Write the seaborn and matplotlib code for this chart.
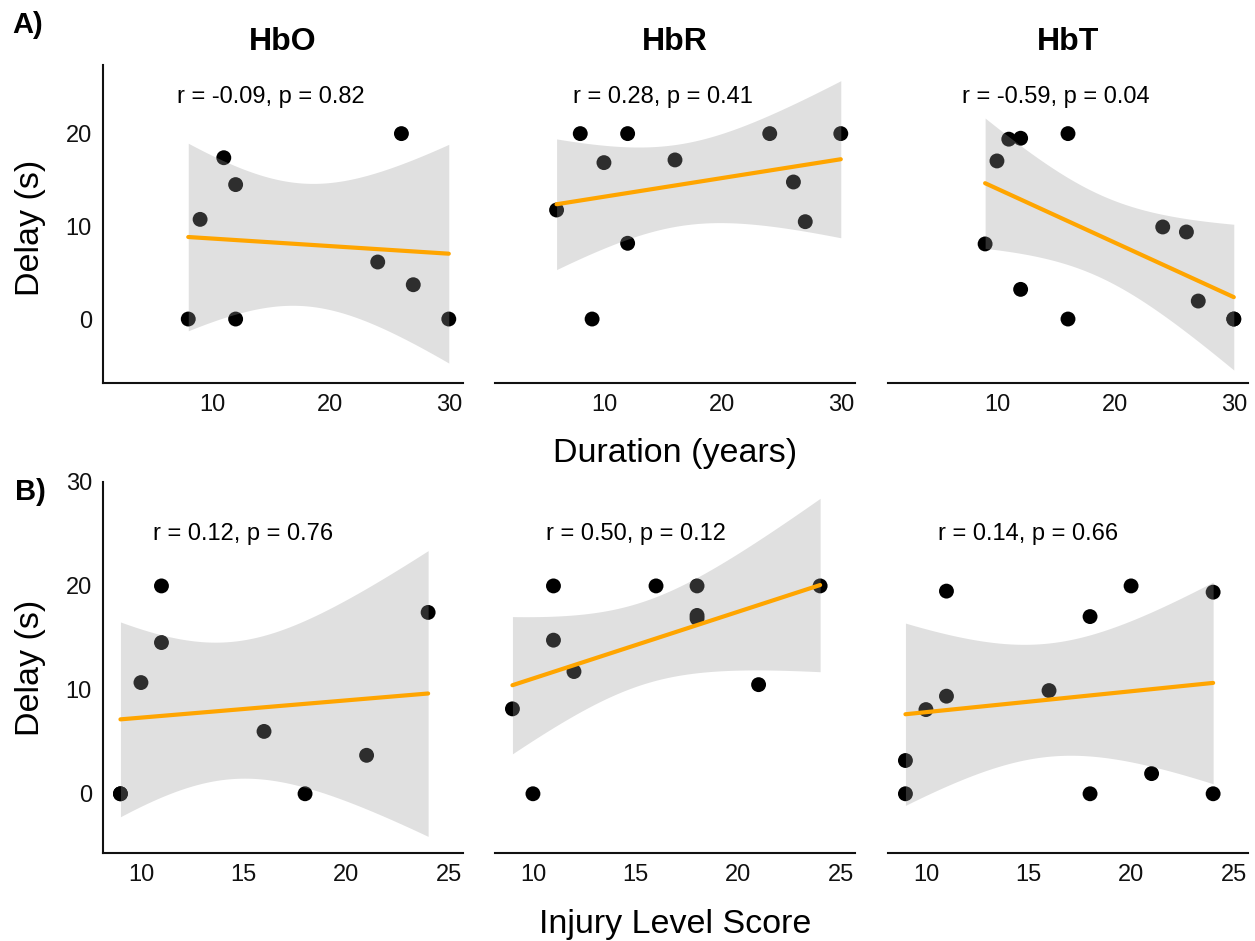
import numpy as np
import pandas as pd
import seaborn as sns
import matplotlib.pyplot as plt

# data: delay (s) against duration (years) and injury level score
dur_hbo_x = [8, 9, 11, 12, 12, 24, 26, 27, 30]
dur_hbo_y = [0, 10.75, 17.4, 14.5, 0, 6.15, 20, 3.7, 0]
dur_hbr_x = [6, 8, 9, 10, 12, 12, 16, 24, 26, 27, 30]
dur_hbr_y = [11.76, 20, 0, 16.87, 20, 8.17, 17.16, 20, 14.78, 10.5, 20]
dur_hbt_x = [9, 10, 11, 12, 12, 16, 16, 24, 26, 27, 30, 30]
dur_hbt_y = [8.1, 17.05, 19.4, 19.5, 3.2, 20, 0, 9.93, 9.39, 1.94, 0, 0]

inj_hbo_x = [9, 9, 10, 11, 11, 16, 18, 21, 24]
inj_hbo_y = [0, 0, 10.7, 20, 14.55, 6.0, 0, 3.7, 17.45]
inj_hbr_x = [9, 10, 11, 11, 12, 16, 18, 18, 18, 21, 24]
inj_hbr_y = [8.17, 0, 20, 14.78, 11.76, 20, 20, 16.87, 17.16, 10.5, 20]
inj_hbt_x = [9, 9, 10, 11, 11, 16, 18, 18, 20, 21, 24, 24]
inj_hbt_y = [3.2, 0, 8.1, 19.5, 9.39, 9.93, 17.05, 0, 20, 1.94, 19.4, 0]

titles = ["HbO", "HbR", "HbT"]
dur_labels = ["r = -0.09, p = 0.82", "r = 0.28, p = 0.41", "r = -0.59, p = 0.04"]
inj_labels = ["r = 0.12, p = 0.76", "r = 0.50, p = 0.12", "r = 0.14, p = 0.66"]
dur_ticks = [10, 20, 30]
inj_ticks = [10, 15, 20, 25]
dur_yticks = [0, 10, 20]
inj_yticks = [0, 10, 20, 30]

# two-sided 95% t quantiles by degrees of freedom
T975 = {7: 2.365, 9: 2.262, 10: 2.228}


def ci_band(x, y, n_grid=100):
    # same band as a linear fit with a 95% confidence interval (lm smoother)
    x = np.asarray(x, float)
    y = np.asarray(y, float)
    n = len(x)
    b1, b0 = np.polyfit(x, y, 1)
    grid = np.linspace(x.min(), x.max(), n_grid)
    s = np.sqrt(((y - (b0 + b1 * x)) ** 2).sum() / (n - 2))
    sxx = ((x - x.mean()) ** 2).sum()
    se = s * np.sqrt(1 / n + (grid - x.mean()) ** 2 / sxx)
    fit = b0 + b1 * grid
    t = T975[n - 2]
    return grid, fit - t * se, fit + t * se


sns.set_style("white")
plt.rcParams['font.family'] = ['Liberation Sans', 'DejaVu Sans']
plt.rcParams['text.color'] = 'black'

W, H = 1255, 941
fig = plt.figure(figsize=(W / 100, H / 100), dpi=100)

lefts = [103, 495, 888]
pw = 360
rows = [
    dict(xs=[dur_hbo_x, dur_hbr_x, dur_hbt_x], ys=[dur_hbo_y, dur_hbr_y, dur_hbt_y],
         labels=dur_labels, top=65, bottom=383, xlim=(0.8, 31.2), ylim=(-6.9, 27.4),
         xticks=dur_ticks, yticks=dur_yticks, label_y=24),
    dict(xs=[inj_hbo_x, inj_hbr_x, inj_hbt_x], ys=[inj_hbo_y, inj_hbr_y, inj_hbt_y],
         labels=inj_labels, top=482, bottom=853, xlim=(8.15, 25.7), ylim=(-5.7, 30.0),
         xticks=inj_ticks, yticks=inj_yticks, label_y=25),
]

for r, row in enumerate(rows):
    for c in range(3):
        ax = fig.add_axes([lefts[c] / W, 1 - row['bottom'] / H, pw / W,
                           (row['bottom'] - row['top']) / H])
        x, y = row['xs'][c], row['ys'][c]
        df = pd.DataFrame({'x': x, 'y': y})
        sns.scatterplot(data=df, x='x', y='y', ax=ax, color='black', s=115,
                        edgecolor='none', zorder=1)
        gx, lo, hi = ci_band(x, y)
        ax.fill_between(gx, lo, hi, color='#999999', alpha=0.3, lw=0, zorder=2)
        sns.regplot(data=df, x='x', y='y', ax=ax, scatter=False, ci=None,
                    color='orange', line_kws={'lw': 3.0, 'zorder': 3})
        ax.text(15, row['label_y'], row['labels'][c], ha='center', va='center',
                fontsize=17, color='black')

        ax.set_xlim(row['xlim'])
        ax.set_ylim(row['ylim'])
        ax.set_xticks(row['xticks'])
        ax.set_xlabel('')
        ax.set_ylabel('')
        sns.despine(ax=ax, left=(c != 0))
        for side in ['bottom', 'left']:
            ax.spines[side].set_linewidth(1.5)
            ax.spines[side].set_color('#111111')
        ax.tick_params(axis='x', length=4, width=1.1, color='#333333',
                       labelsize=17, labelcolor='#111111', pad=4)
        if c == 0:
            ax.set_yticks(row['yticks'])
            ax.tick_params(axis='y', length=4, width=1.1, color='#333333',
                           labelsize=17, labelcolor='#111111', pad=4)
        else:
            ax.set_yticks([])
        if r == 0:
            fig.text((lefts[c] + pw / 2) / W, 1 - 42 / H, titles[c], ha='center',
                     va='center', fontsize=23, fontweight='bold')

fig.text(30 / W, 1 - 228 / H, 'Delay (s)', rotation=90, ha='center', va='center', fontsize=24.5)
fig.text(31 / W, 1 - 668 / H, 'Delay (s)', rotation=90, ha='center', va='center', fontsize=24.5)
fig.text(675 / W, 1 - 453 / H, 'Duration (years)', ha='center', va='center', fontsize=24.5)
fig.text(675 / W, 1 - 925 / H, 'Injury Level Score', ha='center', va='center', fontsize=24.5)
fig.text(12 / W, 1 - 25 / H, 'A)', ha='left', va='center', fontsize=21, fontweight='bold')
fig.text(15 / W, 1 - 492 / H, 'B)', ha='left', va='center', fontsize=21, fontweight='bold')

fig.savefig('out.png', dpi=100)
